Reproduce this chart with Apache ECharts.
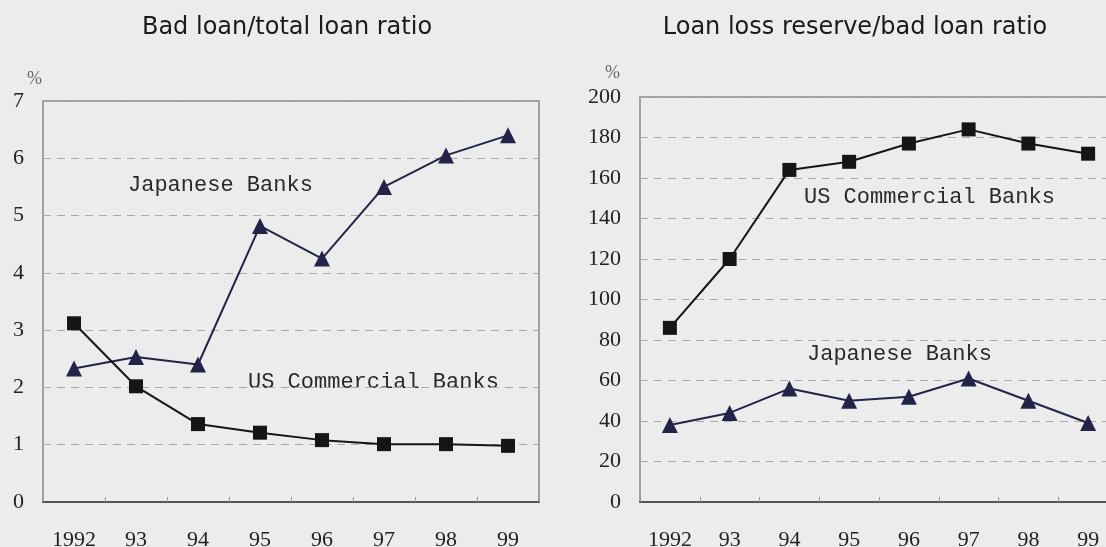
<!DOCTYPE html>
<html>
<head>
<meta charset="utf-8">
<script src="https://cdn.jsdelivr.net/npm/echarts@6/dist/echarts.min.js"></script>
<style>
  html, body { margin: 0; padding: 0; background: #ececec; }
  #main { width: 1106px; height: 547px; }
</style>
</head>
<body>
<div id="main"></div>
<script>
// 年份
var years = ['1992', '93', '94', '95', '96', '97', '98', '99'];
// 不良贷款/总贷款 (%)
var badJapan = [2.33, 2.53, 2.4, 4.82, 4.25, 5.5, 6.05, 6.4];
var badUS = [3.12, 2.02, 1.36, 1.21, 1.08, 1.01, 1.01, 0.98];
// 贷款损失准备/不良贷款 (%)
var reserveUS = [86, 120, 164, 168, 177, 184, 177, 172];
var reserveJapan = [38, 44, 56, 50, 52, 61, 50, 39];
var leftTicks = [0, 7, 1];
var rightTicks = [0, 200, 20];

var serif = '"Liberation Serif", "DejaVu Serif", serif';
var mono = '"Liberation Mono", "DejaVu Sans Mono", monospace';

function xAxisOf(gridIndex) {
  return {
    type: 'category',
    gridIndex: gridIndex,
    data: years,
    boundaryGap: true,
    axisLine: { show: true, lineStyle: { color: '#555', width: 2 } },
    axisTick: { show: true, inside: true, length: 5, lineStyle: { color: '#999' } },
    axisLabel: { color: '#222', fontFamily: serif, fontSize: 22, margin: 27 },
    splitLine: { show: false }
  };
}

function yAxisOf(gridIndex, t) {
  return {
    type: 'value',
    gridIndex: gridIndex,
    min: t[0],
    max: t[1],
    interval: t[2],
    axisLine: { show: false },
    axisTick: { show: false },
    axisLabel: { color: '#222', fontFamily: serif, fontSize: 22, margin: 19 },
    splitLine: { show: true, lineStyle: { color: '#aaa', type: [8, 6], width: 1 } }
  };
}

function lineOf(data, xi, color, symbol, size) {
  return {
    type: 'line',
    xAxisIndex: xi,
    yAxisIndex: xi,
    data: data,
    symbol: symbol,
    symbolSize: size,
    showAllSymbol: true,
    itemStyle: { color: color },
    lineStyle: { color: color, width: 2 },
    z: symbol === 'rect' ? 3 : 2
  };
}

var titleStyle = { fontFamily: '"DejaVu Sans", sans-serif', fontWeight: 'normal', fontSize: 24, color: '#1a1a1a' };

var chart = echarts.init(document.getElementById('main'));
chart.setOption({
  backgroundColor: '#ececec',
  animation: false,
  title: [
    { text: 'Bad loan/total loan ratio', left: 282, top: 11, textAlign: 'center', textStyle: titleStyle },
    { text: 'Loan loss reserve/bad loan ratio', left: 850, top: 11, textAlign: 'center', textStyle: titleStyle }
  ],
  grid: [
    { left: 43, top: 101, width: 496, height: 401, outerBoundsMode: 'none', containLabel: false,
      show: true, borderColor: '#888', borderWidth: 1.5, backgroundColor: 'transparent' },
    { left: 640, top: 97, width: 478, height: 405, outerBoundsMode: 'none', containLabel: false,
      show: true, borderColor: '#888', borderWidth: 1.5, backgroundColor: 'transparent' }
  ],
  xAxis: [xAxisOf(0), xAxisOf(1)],
  yAxis: [yAxisOf(0, leftTicks), yAxisOf(1, rightTicks)],
  graphic: [
    { type: 'text', left: 27, top: 70, style: { text: '%', fill: '#666', font: '18px ' + serif } },
    { type: 'text', left: 605, top: 64, style: { text: '%', fill: '#666', font: '18px ' + serif } },
    { type: 'text', left: 128, top: 174, style: { text: 'Japanese Banks', fill: '#2a2a2a', font: '22px ' + mono } },
    { type: 'text', left: 248, top: 371, style: { text: 'US Commercial Banks', fill: '#2a2a2a', font: '22px ' + mono } },
    { type: 'text', left: 804, top: 186, style: { text: 'US Commercial Banks', fill: '#2a2a2a', font: '22px ' + mono } },
    { type: 'text', left: 807, top: 343, style: { text: 'Japanese Banks', fill: '#2a2a2a', font: '22px ' + mono } }
  ],
  series: [
    lineOf(badJapan, 0, '#23234a', 'triangle', 16),
    lineOf(badUS, 0, '#151515', 'rect', 14),
    lineOf(reserveUS, 1, '#151515', 'rect', 14),
    lineOf(reserveJapan, 1, '#23234a', 'triangle', 16)
  ]
});
</script>
</body>
</html>
